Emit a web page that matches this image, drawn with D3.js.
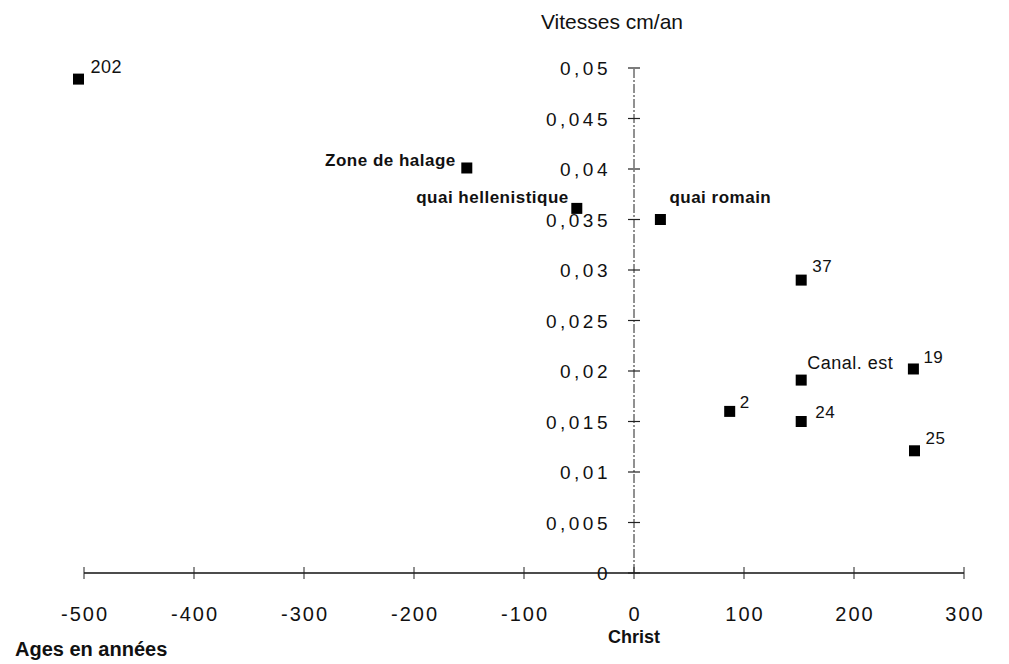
<!DOCTYPE html>
<html>
<head>
<meta charset="utf-8">
<script src="https://cdn.jsdelivr.net/npm/d3@7"></script>
<style>
  html, body { margin: 0; padding: 0; background: #fff; }
  svg { display: block; }
  text { font-family: "Liberation Sans", Arial, Helvetica, sans-serif; fill: #111; }
</style>
</head>
<body>
<svg id="chart" width="1009" height="664"></svg>
<script>
// ---- data ----
const pointLabels = ["202", "Zone de halage", "quai hellenistique", "quai romain", "37", "Canal. est", "19", "2", "24", "25"];
const ages        = [-505, -152, -52, 24, 152, 152, 254, 87, 152, 255];
const speeds      = [0.0489, 0.0401, 0.0361, 0.0350, 0.0290, 0.0191, 0.0202, 0.0160, 0.0150, 0.0121];

const xTicks      = [-500, -400, -300, -200, -100, 0, 100, 200, 300];
const xTickLabels = ["-500", "-400", "-300", "-200", "-100", "0", "100", "200", "300"];
const yTicks      = [0, 0.005, 0.01, 0.015, 0.02, 0.025, 0.03, 0.035, 0.04, 0.045, 0.05];
const yTickLabels = ["0", "0,005", "0,01", "0,015", "0,02", "0,025", "0,03", "0,035", "0,04", "0,045", "0,05"];

const yTitle = "Vitesses cm/an";
const xTitle = "Ages en années";
const originLabel = "Christ";

// ---- label placement (style only) ----
const labelStyle = {
  "202":                {anchor: "start", dx: 12, dy: -6,  weight: "normal", size: 18},
  "Zone de halage":     {anchor: "end",   dx: -11, dy: -2, weight: "bold",   size: 17},
  "quai hellenistique": {anchor: "end",   dx: -8, dy: -5,  weight: "bold",   size: 17},
  "quai romain":        {anchor: "start", dx: 9,  dy: -17, weight: "bold",   size: 17},
  "37":                 {anchor: "start", dx: 11, dy: -8,  weight: "normal", size: 17},
  "Canal. est":         {anchor: "start", dx: 6,  dy: -11, weight: "normal", size: 18},
  "19":                 {anchor: "start", dx: 10, dy: -6,  weight: "normal", size: 17},
  "2":                  {anchor: "start", dx: 10, dy: -3,  weight: "normal", size: 17},
  "24":                 {anchor: "start", dx: 14, dy: -4,  weight: "normal", size: 17},
  "25":                 {anchor: "start", dx: 11, dy: -7,  weight: "normal", size: 17}
};

const svg = d3.select("#chart");

const x = d3.scaleLinear().domain([-500, 300]).range([84, 964]);
const y = d3.scaleLinear().domain([0, 0.05]).range([573, 68]);

// x axis line
svg.append("line")
  .attr("x1", x(-500)).attr("x2", x(300))
  .attr("y1", y(0)).attr("y2", y(0))
  .attr("stroke", "#111").attr("stroke-width", 1.4);

// x ticks
svg.selectAll(".xtick").data(xTicks).enter().append("line")
  .attr("x1", d => x(d)).attr("x2", d => x(d))
  .attr("y1", y(0) - 6).attr("y2", y(0) + 6)
  .attr("stroke", "#222").attr("stroke-width", 1);

svg.selectAll(".xlab").data(xTicks).enter().append("text")
  .attr("x", d => x(d) + 1)
  .attr("y", 621)
  .attr("text-anchor", "middle")
  .style("font-size", "20px")
  .style("letter-spacing", "2px")
  .text((d, i) => xTickLabels[i]);

// y axis line (dashed, scan-like)
svg.append("line")
  .attr("x1", x(0)).attr("x2", x(0))
  .attr("y1", y(0)).attr("y2", y(0.05))
  .attr("stroke", "#222").attr("stroke-width", 1)
  .attr("stroke-dasharray", "9,2,2,2");

// y ticks
svg.selectAll(".ytick").data(yTicks).enter().append("line")
  .attr("x1", x(0) - 6).attr("x2", x(0) + 6)
  .attr("y1", d => y(d)).attr("y2", d => y(d))
  .attr("stroke", "#222").attr("stroke-width", 1.2);

svg.selectAll(".ylab").data(yTicks).enter().append("text")
  .attr("x", 611)
  .attr("y", d => y(d) + 7)
  .attr("text-anchor", "end")
  .style("font-size", "19px")
  .style("letter-spacing", "3.5px")
  .text((d, i) => yTickLabels[i]);

// titles
svg.append("text")
  .attr("x", 612).attr("y", 29)
  .attr("text-anchor", "middle")
  .style("font-size", "21px")
  .text(yTitle);

svg.append("text")
  .attr("x", 15).attr("y", 656)
  .attr("text-anchor", "start")
  .style("font-size", "20px")
  .style("font-weight", "bold")
  .text(xTitle);

svg.append("text")
  .attr("x", x(0)).attr("y", 643)
  .attr("text-anchor", "middle")
  .style("font-size", "18px")
  .style("font-weight", "bold")
  .text(originLabel);

// points
const pts = pointLabels.map((lab, i) => ({lab, a: ages[i], v: speeds[i]}));
const sq = 11;
svg.selectAll(".pt").data(pts).enter().append("rect")
  .attr("x", d => x(d.a) - sq / 2)
  .attr("y", d => y(d.v) - sq / 2)
  .attr("width", sq).attr("height", sq)
  .attr("fill", "#000");

svg.selectAll(".ptlab").data(pts).enter().append("text")
  .attr("x", d => x(d.a) + labelStyle[d.lab].dx)
  .attr("y", d => y(d.v) + labelStyle[d.lab].dy)
  .attr("text-anchor", d => labelStyle[d.lab].anchor)
  .style("font-size", d => labelStyle[d.lab].size + "px")
  .style("font-weight", d => labelStyle[d.lab].weight)
  .style("letter-spacing", "0.5px")
  .text(d => d.lab);
</script>
</body>
</html>
